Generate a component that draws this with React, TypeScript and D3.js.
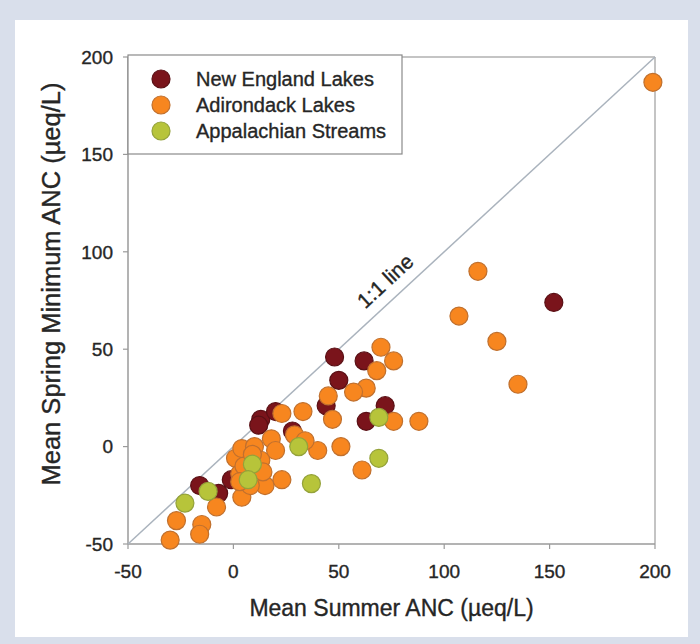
import React from "react";
import * as d3 from "d3";

type P = { x: number; y: number };

const newEngland: P[] = [
  { x: 152, y: 74 }, { x: 48, y: 46 }, { x: 62, y: 44 }, { x: 50, y: 34 },
  { x: 44, y: 21 }, { x: 72, y: 21 }, { x: 63, y: 13 }, { x: 13, y: 14 },
  { x: 12, y: 11 }, { x: 20, y: 18 }, { x: 28, y: 8 }, { x: -1, y: -17 },
  { x: -16, y: -20 }, { x: -7, y: -24 },
];

const adirondack: P[] = [
  { x: 199, y: 187 }, { x: 116, y: 90 }, { x: 107, y: 67 }, { x: 125, y: 54 },
  { x: 135, y: 32 }, { x: 70, y: 51 }, { x: 76, y: 44 }, { x: 68, y: 39 },
  { x: 63, y: 30 }, { x: 57, y: 28 }, { x: 45, y: 26 }, { x: 47, y: 14 },
  { x: 76, y: 13 }, { x: 88, y: 13 }, { x: 33, y: 18 }, { x: 23, y: 17 },
  { x: 51, y: 0 }, { x: 61, y: -12 }, { x: 40, y: -2 }, { x: 29, y: 6 },
  { x: 34, y: 3 }, { x: 18, y: 4 }, { x: 20, y: -2 }, { x: 23, y: -17 },
  { x: 15, y: -20 }, { x: 4, y: -26 }, { x: -8, y: -31 }, { x: -27, y: -38 },
  { x: -15, y: -40 }, { x: -16, y: -45 }, { x: -30, y: -48 }, { x: 1, y: -6 },
  { x: 4, y: -1 }, { x: 10, y: 0 }, { x: 13, y: -7 }, { x: 14, y: -13 },
  { x: 3, y: -14 }, { x: 5, y: -10 }, { x: 8, y: -20 }, { x: 3, y: -18 },
  { x: 9, y: -4 },
];

const appalachian: P[] = [
  { x: 31, y: 0 }, { x: 69, y: 15 }, { x: 69, y: -6 }, { x: 37, y: -19 },
  { x: 9, y: -9 }, { x: 7, y: -17 }, { x: -12, y: -23 }, { x: -23, y: -29 },
];

const seriesNames = ["New England Lakes", "Adirondack Lakes", "Appalachian Streams"];
const seriesFill = ["#7a141b", "#f7861f", "#b7c43a"];
const seriesStroke = ["#5a1015", "#c0702e", "#94a23a"];
const seriesData = [newEngland, adirondack, appalachian];

const xTicks = [-50, 0, 50, 100, 150, 200];
const yTicks = [-50, 0, 50, 100, 150, 200];

export default function App() {
  const W = 700, H = 644;
  const left = 128, right = 655, top = 57, bottom = 544;
  const x = d3.scaleLinear().domain([-50, 200]).range([left, right]);
  const y = d3.scaleLinear().domain([-50, 200]).range([bottom, top]);
  const font = "'Liberation Sans', Arial, Helvetica, sans-serif";
  const txt = "#262626";
  const thick = { stroke: txt, strokeWidth: 0.35 };
  const angle = (Math.atan2(y(0) - y(200), x(200) - x(0)) * 180) / Math.PI;
  const lx = x(72), ly = y(85);
  const r = 9;

  return (
    <svg width={W} height={H} style={{ position: "absolute", left: 0, top: 0 }} fontFamily={font}>
      <rect x={0} y={0} width={W} height={H} fill="#d9dfeb" />
      <rect x={15} y={20} width={673} height={617} fill="#ffffff" />

      {/* plot frame */}
      <line x1={left} x2={right} y1={top} y2={top} stroke="#b0b0b0" strokeWidth={1.5} />
      <line x1={right} x2={right} y1={top} y2={bottom} stroke="#b0b0b0" strokeWidth={1.5} />
      <line x1={left} x2={right} y1={bottom} y2={bottom} stroke="#9a9a9a" strokeWidth={1.5} />
      <line x1={left} x2={left} y1={top} y2={bottom} stroke="#9a9a9a" strokeWidth={1.5} />

      {/* ticks */}
      {yTicks.map((t) => (
        <g key={"y" + t}>
          <line x1={left - 5} x2={left} y1={y(t)} y2={y(t)} stroke="#9a9a9a" strokeWidth={1.2} />
          <text x={left - 15} y={y(t)} dy="0.36em" textAnchor="end" fontSize={19} fill={txt} {...thick}>{t}</text>
        </g>
      ))}
      {xTicks.map((t) => (
        <g key={"x" + t}>
          <line x1={x(t)} x2={x(t)} y1={bottom} y2={bottom + 5} stroke="#9a9a9a" strokeWidth={1.2} />
          <text x={x(t)} y={578} textAnchor="middle" fontSize={19} fill={txt} {...thick}>{t}</text>
        </g>
      ))}

      {/* 1:1 line */}
      <line x1={x(-50)} y1={y(-50)} x2={x(200)} y2={y(200)} stroke="#aab3bd" strokeWidth={1.5} />
      <text
        x={lx}
        y={ly}
        transform={`rotate(${-angle} ${lx} ${ly})`}
        textAnchor="middle"
        dy="0.35em"
        fontSize={21}
        fill={txt}
        {...thick}
      >
        1:1 line
      </text>

      {/* points */}
      {seriesData.map((data, si) => (
        <g key={"s" + si}>
          {data.map((d, i) => (
            <circle key={i} cx={x(d.x)} cy={y(d.y)} r={r} fill={seriesFill[si]} stroke={seriesStroke[si]} strokeWidth={1.2} />
          ))}
        </g>
      ))}

      {/* legend */}
      <rect x={left} y={55} width={274} height={99} fill="#ffffff" stroke="#8a8a8a" strokeWidth={1.2} />
      {seriesNames.map((n, i) => (
        <g key={n}>
          <circle cx={161} cy={79 + i * 26} r={9} fill={seriesFill[i]} stroke={seriesStroke[i]} strokeWidth={1.2} />
          <text x={196} y={79 + i * 26} dy="0.36em" fontSize={20} fill={txt} {...thick}>{n}</text>
        </g>
      ))}

      {/* axis titles */}
      <text x={(left + right) / 2} y={616} textAnchor="middle" fontSize={23} fill={txt} {...thick}>
        Mean Summer ANC (µeq/L)
      </text>
      <text
        transform={`translate(51 284) rotate(-90)`}
        textAnchor="middle"
        dy="0.35em"
        fontSize={25.5}
        fill={txt}
        {...thick}
      >
        Mean Spring Minimum ANC (µeq/L)
      </text>
    </svg>
  );
}
